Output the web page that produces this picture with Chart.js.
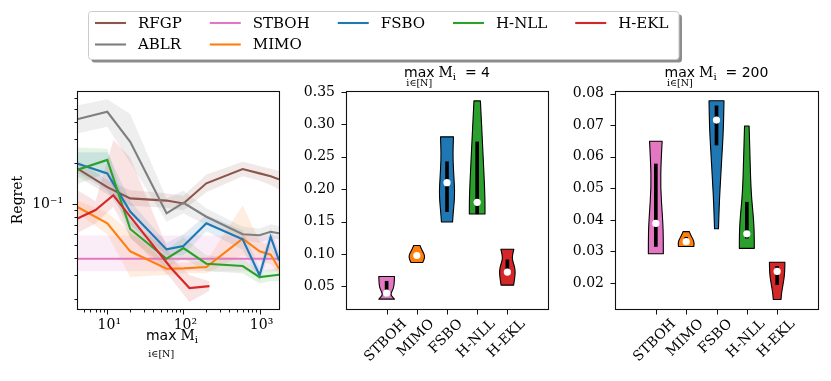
<!DOCTYPE html>
<html>
<head>
<meta charset="utf-8">
<script src="https://cdn.jsdelivr.net/npm/chart.js@4/dist/chart.umd.min.js"></script>
<style>
  html, body { margin: 0; padding: 0; background: #fff; }
  #wrap { position: relative; width: 831px; height: 381px; }
  #wrap canvas { position: absolute; left: 0; top: 0; }
</style>
</head>
<body>
<div id="wrap">
  <canvas id="lines" width="831" height="381"></canvas>
  <canvas id="v4" width="831" height="381"></canvas>
  <canvas id="v200" width="831" height="381"></canvas>
</div>
<script>
// ---------- left panel: regret vs max M_i ----------
const mGrid  = [4, 10, 20, 60, 100, 200, 600, 1000, 1400, 1800];
const ekGrid = [4, 7, 12, 20, 70, 120, 220];
const stGrid = [4, 1800];

const rfgpMean = [0.183, 0.133, 0.110, 0.106, 0.101, 0.142, 0.181, 0.168, 0.160, 0.152];
const rfgpLow  = [0.160, 0.118, 0.097, 0.094, 0.090, 0.122, 0.160, 0.148, 0.138, 0.128];
const rfgpHigh = [0.210, 0.150, 0.126, 0.120, 0.115, 0.165, 0.205, 0.190, 0.182, 0.175];

const ablrMean = [0.420, 0.477, 0.287, 0.0855, 0.102, 0.0806, 0.060, 0.059, 0.0625, 0.061];
const ablrLow  = [0.330, 0.370, 0.200, 0.074, 0.085, 0.070, 0.054, 0.052, 0.056, 0.055];
const ablrHigh = [0.530, 0.590, 0.460, 0.110, 0.125, 0.093, 0.068, 0.066, 0.071, 0.069];

const stbohMean = [0.0396, 0.0396];
const stbohLow  = [0.0320, 0.0320];
const stbohHigh = [0.0587, 0.0587];

const mimoMean = [0.0955, 0.0721, 0.0449, 0.0334, 0.0336, 0.0344, 0.0556, 0.0449, 0.0424, 0.0334];
const mimoLow  = [0.086, 0.060, 0.029, 0.030, 0.031, 0.031, 0.042, 0.038, 0.036, 0.030];
const mimoHigh = [0.106, 0.087, 0.062, 0.037, 0.037, 0.038, 0.098, 0.053, 0.049, 0.038];

const fsboMean = [0.199, 0.168, 0.088, 0.0464, 0.0491, 0.0721, 0.055, 0.0299, 0.0572, 0.0385];
const fsboLow  = [0.170, 0.125, 0.070, 0.042, 0.042, 0.063, 0.046, 0.027, 0.047, 0.034];
const fsboHigh = [0.240, 0.240, 0.105, 0.052, 0.060, 0.083, 0.064, 0.034, 0.066, 0.044];

const nllMean = [0.178, 0.211, 0.0655, 0.0396, 0.0474, 0.0364, 0.035, 0.029, 0.0297, 0.0302];
const nllLow  = [0.140, 0.170, 0.056, 0.034, 0.040, 0.032, 0.031, 0.026, 0.027, 0.027];
const nllHigh = [0.260, 0.255, 0.075, 0.046, 0.057, 0.042, 0.040, 0.032, 0.033, 0.034];

const eklMean = [0.078, 0.0903, 0.116, 0.0807, 0.0334, 0.0241, 0.0249];
const eklLow  = [0.061, 0.072, 0.095, 0.057, 0.028, 0.019, 0.023];
const eklHigh = [0.127, 0.105, 0.296, 0.220, 0.040, 0.030, 0.027];

const logXMajor = [10, 100, 1000];
const logXMajorLabels = ['10¹', '10²', '10³'];
const logXMinor = [5, 6, 7, 8, 9, 20, 30, 40, 50, 60, 70, 80, 90, 200, 300, 400, 500, 600, 700, 800, 900];
const logYMajor = [0.1];
const logYMajorLabels = ['10⁻¹'];
const logYMinor = [0.02, 0.03, 0.04, 0.05, 0.06, 0.07, 0.08, 0.09, 0.2, 0.3, 0.4, 0.5, 0.6];

// ---------- violin panels ----------
const violinNames = ['STBOH', 'MIMO', 'FSBO', 'H-NLL', 'H-EKL'];

// max M_i = 4 : sampled outline (value, relative half width)
const v4Levels = [
  [0.0305, 0.033, 0.036, 0.039, 0.043, 0.048, 0.055, 0.0654],
  [0.0869, 0.092, 0.097, 0.102, 0.107, 0.1131],
  [0.1495, 0.165, 0.180, 0.196, 0.215, 0.245, 0.265, 0.2808],
  [0.1618, 0.180, 0.200, 0.220, 0.250, 0.280, 0.310, 0.3362],
  [0.052, 0.060, 0.068, 0.075, 0.083, 0.090, 0.097, 0.1074]
];
const v4Density = [
  [1.0, 0.8, 0.58, 0.56, 0.7, 0.88, 0.97, 1.0],
  [0.75, 0.95, 1.0, 0.85, 0.6, 0.4],
  [0.71, 0.8, 0.92, 0.98, 0.9, 0.76, 0.78, 0.83],
  [1.0, 1.0, 0.95, 0.88, 0.76, 0.64, 0.52, 0.41],
  [0.8, 0.9, 0.98, 1.0, 0.85, 0.66, 0.62, 0.83]
];
const v4Median = [0.0396, 0.0977, 0.210, 0.1797, 0.0721];
const v4Q1 = [0.035, 0.095, 0.1654, 0.162, 0.068];
const v4Q3 = [0.058, 0.100, 0.2423, 0.273, 0.091];
const v4Ticks = [0.05, 0.10, 0.15, 0.20, 0.25, 0.30, 0.35];

// max M_i = 200
const v200Levels = [
  [0.0293, 0.0358, 0.041, 0.0505, 0.059, 0.0649],
  [0.0316, 0.0328, 0.0342, 0.0353, 0.0363],
  [0.0372, 0.0453, 0.0537, 0.061, 0.0695, 0.0777],
  [0.031, 0.0358, 0.041, 0.0484, 0.059, 0.0697],
  [0.0148, 0.0168, 0.019, 0.0232, 0.0266]
];
const v200Density = [
  [0.95, 0.95, 0.84, 0.59, 0.67, 0.8],
  [0.98, 1.05, 0.8, 0.55, 0.4],
  [0.25, 0.35, 0.54, 0.7, 0.9, 0.95],
  [0.95, 0.95, 0.83, 0.55, 0.4, 0.29],
  [0.49, 0.55, 0.71, 0.98, 0.98]
];
const v200Median = [0.0389, 0.0331, 0.0716, 0.0356, 0.0237];
const v200Q1 = [0.0316, 0.0325, 0.0637, 0.0342, 0.0195];
const v200Q3 = [0.0577, 0.0345, 0.0761, 0.0456, 0.0253];
const v200Ticks = [0.02, 0.03, 0.04, 0.05, 0.06, 0.07, 0.08];

// ---------- look ----------
const colors = {
  'RFGP': '#8c564b', 'ABLR': '#7f7f7f', 'STBOH': '#e377c2', 'MIMO': '#ff7f0e',
  'FSBO': '#1f77b4', 'H-NLL': '#2ca02c', 'H-EKL': '#d62728'
};
const serif = '"DejaVu Serif", serif';
const sans = '"DejaVu Sans", sans-serif';

function pts(xs, ys) { return xs.map((x, i) => ({ x: x, y: ys[i] })); }
function fade(hex, a) {
  const n = parseInt(hex.slice(1), 16);
  return `rgba(${n >> 16},${(n >> 8) & 255},${n & 255},${a})`;
}

function drawBox(ctx, a) {
  ctx.strokeStyle = '#111';
  ctx.lineWidth = 1.1;
  ctx.strokeRect(Math.round(a.left) + 0.5, Math.round(a.top) + 0.5,
    Math.round(a.right) - Math.round(a.left), Math.round(a.bottom) - Math.round(a.top));
}
function tickDown(ctx, px, a, len) {
  const x = Math.round(px) + 0.5, y = Math.round(a.bottom) + 0.5;
  ctx.beginPath(); ctx.moveTo(x, y); ctx.lineTo(x, y + len); ctx.stroke();
}
function tickLeft(ctx, py, a, len) {
  const y = Math.round(py) + 0.5, x = Math.round(a.left) + 0.5;
  ctx.beginPath(); ctx.moveTo(x, y); ctx.lineTo(x - len, y); ctx.stroke();
}

// "max M_i" with "i∈[N]" under max
function drawMaxExpr(ctx, cx, base, tail, subDrop) {
  ctx.save();
  ctx.fillStyle = '#000';
  ctx.textBaseline = 'alphabetic';
  ctx.textAlign = 'left';
  const big = '14px ' + sans, bigSerif = '14px ' + serif, small = '10px ' + serif, sub = '9.5px ' + serif;
  ctx.font = big;
  const wMax = ctx.measureText('max').width;
  const wTail = ctx.measureText(tail).width;
  ctx.font = bigSerif;
  const wM = ctx.measureText('M').width;
  ctx.font = small;
  const wI = ctx.measureText('i').width;
  const gap = 4;
  let x = cx - (wMax + gap + wM + wI + wTail) / 2;
  ctx.font = big;
  ctx.fillText('max', x, base);
  ctx.font = sub;
  ctx.textAlign = 'center';
  ctx.fillText('i∈[N]', x + wMax / 2, base + subDrop);
  ctx.textAlign = 'left';
  x += wMax + gap;
  ctx.font = bigSerif;
  ctx.fillText('M', x, base);
  x += wM;
  ctx.font = small;
  ctx.fillText('i', x, base + 3);
  x += wI;
  ctx.font = big;
  ctx.fillText(tail, x, base);
  ctx.restore();
}

// ---------- left chart ----------
const series = [
  { name: 'RFGP', xs: mGrid, mean: rfgpMean, lo: rfgpLow, hi: rfgpHigh },
  { name: 'ABLR', xs: mGrid, mean: ablrMean, lo: ablrLow, hi: ablrHigh },
  { name: 'STBOH', xs: stGrid, mean: stbohMean, lo: stbohLow, hi: stbohHigh },
  { name: 'MIMO', xs: mGrid, mean: mimoMean, lo: mimoLow, hi: mimoHigh },
  { name: 'FSBO', xs: mGrid, mean: fsboMean, lo: fsboLow, hi: fsboHigh },
  { name: 'H-NLL', xs: mGrid, mean: nllMean, lo: nllLow, hi: nllHigh },
  { name: 'H-EKL', xs: ekGrid, mean: eklMean, lo: eklLow, hi: eklHigh }
];

const lineSets = [];
series.forEach((s, k) => {
  const c = colors[s.name];
  lineSets.push({ data: pts(s.xs, s.lo), borderWidth: 0, pointRadius: 0, fill: false, order: 50 });
  lineSets.push({ data: pts(s.xs, s.hi), borderWidth: 0, pointRadius: 0, fill: '-1',
    backgroundColor: fade(c, 0.13), order: 50 });
  lineSets.push({ label: s.name, data: pts(s.xs, s.mean), borderColor: c, borderWidth: 2.1,
    pointRadius: 0, fill: false, tension: 0, order: 10 - k });
});

const legendRows = [['RFGP', 'STBOH', 'FSBO', 'H-NLL', 'H-EKL'], ['ABLR', 'MIMO']];

const linesDecor = {
  id: 'linesDecor',
  afterDraw(chart) {
    const { ctx, chartArea: a, scales: { x, y } } = chart;
    ctx.save();
    drawBox(ctx, a);
    ctx.lineWidth = 1;
    logXMajor.forEach(v => tickDown(ctx, x.getPixelForValue(v), a, 5));
    logXMinor.forEach(v => tickDown(ctx, x.getPixelForValue(v), a, 3));
    logYMajor.forEach(v => tickLeft(ctx, y.getPixelForValue(v), a, 5));
    logYMinor.forEach(v => tickLeft(ctx, y.getPixelForValue(v), a, 3));

    ctx.fillStyle = '#000';
    ctx.font = '14px ' + serif;
    ctx.textAlign = 'center';
    ctx.textBaseline = 'alphabetic';
    logXMajor.forEach((v, i) => ctx.fillText(logXMajorLabels[i], x.getPixelForValue(v) + 2, a.bottom + 20));
    ctx.textAlign = 'right';
    ctx.textBaseline = 'middle';
    logYMajor.forEach((v, i) => ctx.fillText(logYMajorLabels[i], a.left - 14, y.getPixelForValue(v)));

    // y title
    ctx.save();
    ctx.translate(18, (a.top + a.bottom) / 2);
    ctx.rotate(-Math.PI / 2);
    ctx.textAlign = 'center';
    ctx.textBaseline = 'middle';
    ctx.fillText('Regret', 0, 0);
    ctx.restore();

    drawMaxExpr(ctx, 172, 340, '', 17);

    // legend box
    ctx.font = '15px ' + serif;
    const nCol = legendRows[0].length;
    const colX = [95];
    for (let c = 0; c < nCol; c++) {
      let w = 0;
      legendRows.forEach(r => { if (r[c]) w = Math.max(w, ctx.measureText(r[c]).width); });
      colX.push(colX[c] + 43 + w + 28);
    }
    const boxL = 88, boxT = 11, boxR = colX[nCol] - 28 + 10, boxB = 59;
    const rr = (ox, oy) => {
      ctx.beginPath();
      ctx.roundRect(boxL + ox + 0.5, boxT + oy + 0.5, boxR - boxL, boxB - boxT, 3);
    };
    rr(3, 3); ctx.fillStyle = 'rgba(0,0,0,0.45)'; ctx.fill();
    rr(0, 0); ctx.fillStyle = '#fff'; ctx.fill();
    ctx.strokeStyle = '#cccccc'; ctx.lineWidth = 1; ctx.stroke();
    ctx.textAlign = 'left';
    ctx.textBaseline = 'middle';
    legendRows.forEach((row, r) => {
      const yy = 23 + r * 21.5;
      row.forEach((name, c) => {
        ctx.strokeStyle = colors[name];
        ctx.lineWidth = 2.1;
        ctx.beginPath();
        ctx.moveTo(colX[c], yy);
        ctx.lineTo(colX[c] + 31, yy);
        ctx.stroke();
        ctx.fillStyle = '#000';
        ctx.fillText(name, colX[c] + 43, yy + 1);
      });
    });
    ctx.restore();
  }
};

new Chart(document.getElementById('lines'), {
  type: 'line',
  data: { datasets: lineSets },
  options: {
    responsive: false,
    animation: false,
    events: [],
    layout: { padding: { left: 67, top: 91, right: 552, bottom: 62 } },
    scales: {
      x: {
        type: 'logarithmic', min: 4, max: 1800,
        ticks: { display: false }, grid: { display: false }, border: { display: false },
        afterFit: s => { s.height = 10; }
      },
      y: {
        type: 'logarithmic', min: 0.0169, max: 0.678,
        ticks: { display: false }, grid: { display: false }, border: { display: false },
        afterFit: s => { s.width = 10; }
      }
    },
    plugins: { legend: { display: false }, tooltip: { enabled: false } }
  },
  plugins: [linesDecor]
});

// ---------- violin charts ----------
function violinChart(id, pad, yMin, yMax, yTicks, levels, density, median, q1, q3, tail) {
  const violinDecor = {
    id: 'violinDecor',
    beforeDatasetsDraw(chart) {
      const { ctx, scales: { x, y } } = chart;
      ctx.save();
      violinNames.forEach((name, i) => {
        const cx = x.getPixelForValue(i + 1);
        const L = [], R = [];
        levels[i].forEach((v, j) => {
          const hw = x.getPixelForValue(i + 1 + density[i][j] * 0.26) - cx;
          L.push([cx - hw, y.getPixelForValue(v)]);
          R.push([cx + hw, y.getPixelForValue(v)]);
        });
        R.reverse();
        const smoothSide = (p) => {
          if (p.length === 2) { ctx.lineTo(p[1][0], p[1][1]); return; }
          for (let j = 1; j < p.length - 1; j++) {
            if (j === p.length - 2) ctx.quadraticCurveTo(p[j][0], p[j][1], p[j + 1][0], p[j + 1][1]);
            else ctx.quadraticCurveTo(p[j][0], p[j][1], (p[j][0] + p[j + 1][0]) / 2, (p[j][1] + p[j + 1][1]) / 2);
          }
        };
        ctx.beginPath();
        ctx.moveTo(L[0][0], L[0][1]);
        smoothSide(L);
        ctx.lineTo(R[0][0], R[0][1]);
        smoothSide(R);
        ctx.closePath();
        ctx.fillStyle = colors[name];
        ctx.fill();
        ctx.strokeStyle = '#000';
        ctx.lineWidth = 1.1;
        ctx.lineJoin = 'round';
        ctx.stroke();
      });
      ctx.restore();
    },
    afterDraw(chart) {
      const { ctx, chartArea: a, scales: { x, y } } = chart;
      ctx.save();
      drawBox(ctx, a);
      ctx.lineWidth = 1;
      ctx.fillStyle = '#000';
      ctx.font = '14px ' + serif;
      ctx.textAlign = 'right';
      ctx.textBaseline = 'middle';
      yTicks.forEach(v => {
        const py = y.getPixelForValue(v);
        tickLeft(ctx, py, a, 5);
        ctx.fillText(v.toFixed(2), a.left - 11, py);
      });
      violinNames.forEach((name, i) => {
        const px = x.getPixelForValue(i + 1);
        tickDown(ctx, px, a, 5);
        const w = ctx.measureText(name).width;
        const h = (w + 11) * Math.SQRT1_2;
        ctx.save();
        ctx.translate(px - 1, a.bottom + 9 + h / 2);
        ctx.rotate(-Math.PI / 4);
        ctx.textAlign = 'center';
        ctx.textBaseline = 'middle';
        ctx.fillText(name, 0, 0);
        ctx.restore();
      });
      drawMaxExpr(ctx, (a.left + a.right) / 2, 77, tail, 9);
      ctx.restore();
    }
  };

  new Chart(document.getElementById(id), {
    type: 'scatter',
    data: {
      datasets: [
        { type: 'scatter', data: median.map((m, i) => ({ x: i + 1, y: m })),
          pointRadius: 3.6, pointBackgroundColor: '#fff', pointBorderWidth: 0, order: 0 },
        { type: 'bar', data: q1.map((v, i) => ({ x: i + 1, y: [v, q3[i]] })),
          backgroundColor: '#000', barThickness: 3, order: 1 }
      ]
    },
    options: {
      responsive: false,
      animation: false,
      events: [],
      layout: { padding: pad },
      scales: {
        x: {
          type: 'linear', min: 0.49, max: 5.51,
          ticks: { display: false }, grid: { display: false }, border: { display: false },
          afterFit: s => { s.height = 10; }
        },
        y: {
          type: 'linear', min: yMin, max: yMax,
          ticks: { display: false }, grid: { display: false }, border: { display: false },
          afterFit: s => { s.width = 10; }
        }
      },
      plugins: { legend: { display: false }, tooltip: { enabled: false } }
    },
    plugins: [violinDecor]
  });
}

violinChart('v4', { left: 336, top: 91, right: 283, bottom: 62 }, 0.0152, 0.3515, v4Ticks,
  v4Levels, v4Density, v4Median, v4Q1, v4Q3, '  = 4');
violinChart('v200', { left: 605, top: 91, right: 13, bottom: 62 }, 0.0118, 0.0808, v200Ticks,
  v200Levels, v200Density, v200Median, v200Q1, v200Q3, '  = 200');
</script>
</body>
</html>
